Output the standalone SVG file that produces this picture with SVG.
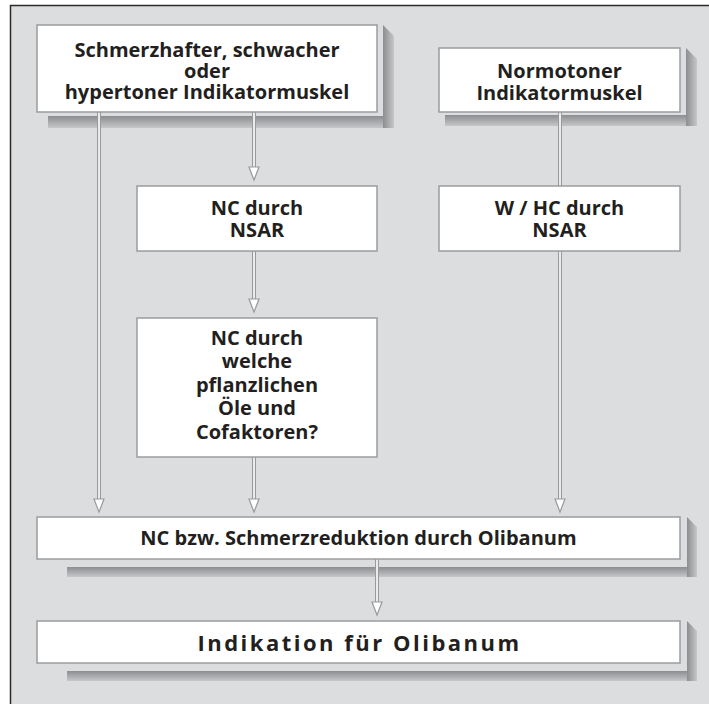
<svg xmlns="http://www.w3.org/2000/svg" width="709" height="704" viewBox="0 0 709 704">
<defs>
<linearGradient id="gV" x1="0" y1="0" x2="0" y2="1"><stop offset="0" stop-color="#8c8d90"/><stop offset="1" stop-color="#c6c7c9"/></linearGradient>
<linearGradient id="gH" x1="0" y1="0" x2="1" y2="0"><stop offset="0" stop-color="#8c8d90"/><stop offset="1" stop-color="#c6c7c9"/></linearGradient>
<path id="ah" d="M-5,-13 L5,-13 L0,0 Z" fill="#fff" stroke="#999a9c" stroke-width="1.2" stroke-linejoin="miter"/>
</defs>
<style>
.box{fill:#fff;stroke:#9b9c9e;stroke-width:1.5}
.t{font-family:"Open Sans","DejaVu Sans",sans-serif;font-weight:700;font-size:20px;fill:#231f20;text-anchor:middle}
.big{font-size:22px;letter-spacing:2.5px}
.pipe{stroke:#999a9c;stroke-width:4;fill:none}
.core{stroke:#fff;stroke-width:1.6;fill:none}
.sv{fill:url(#gV)}
.sh{fill:url(#gH)}
</style>
<rect x="10" y="5" width="720" height="720" fill="#dcdddf"/>
<path d="M10.5,704 V5.5 H709" fill="none" stroke="#2b2b2b" stroke-width="1.5"/>

<g id="shadows">
<rect class="sv" x="48" y="116" width="335" height="12"/>
<polygon class="sh" points="383,25 394,36 394,128 383,128"/>
<rect class="sv" x="445" y="115" width="241" height="11"/>
<polygon class="sh" points="686,48 697,59 697,126 686,126"/>
<rect class="sv" x="67" y="567" width="620" height="10"/>
<polygon class="sh" points="687,517 697,527 697,577 687,577"/>
<rect class="sv" x="67" y="671" width="620" height="10"/>
<polygon class="sh" points="687,621 697,631 697,681 687,681"/>
</g>

<g id="connectors">
<path class="pipe" d="M99,112 V499 M254,112 V167 M254,251 V299 M254,457 V499 M560,112 V186 M560,251 V499 M377,559 V602"/>
<path class="core" d="M99,112 V500 M254,112 V168 M254,251 V300 M254,457 V500 M560,112 V186 M560,251 V500 M377,559 V603"/>
<use href="#ah" x="99" y="512"/>
<use href="#ah" x="254" y="180"/>
<use href="#ah" x="254" y="312"/>
<use href="#ah" x="254" y="512"/>
<use href="#ah" x="560" y="512"/>
<use href="#ah" x="377" y="615"/>
</g>

<g id="n1">
<rect class="box" x="37" y="25" width="340" height="87"/>
<text class="t" x="207" y="57">Schmerzhafter, schwacher</text>
<text class="t" x="207" y="78">oder</text>
<text class="t" x="207" y="99">hypertoner Indikatormuskel</text>
</g>
<g id="n2">
<rect class="box" x="439" y="48" width="241" height="64"/>
<text class="t" x="559.5" y="78">Normotoner</text>
<text class="t" x="559.5" y="100">Indikatormuskel</text>
</g>
<g id="n3">
<rect class="box" x="137" y="186" width="240" height="65"/>
<text class="t" x="257" y="215">NC durch</text>
<text class="t" x="257" y="237">NSAR</text>
</g>
<g id="n4">
<rect class="box" x="439" y="186" width="241" height="65"/>
<text class="t" x="559.5" y="215">W / HC durch</text>
<text class="t" x="559.5" y="237">NSAR</text>
</g>
<g id="n5">
<rect class="box" x="137" y="318" width="240" height="139"/>
<text class="t" x="257" y="345">NC durch</text>
<text class="t" x="257" y="368">welche</text>
<text class="t" x="257" y="392">pflanzlichen</text>
<text class="t" x="257" y="415">Öle und</text>
<text class="t" x="257" y="439">Cofaktoren?</text>
</g>
<g id="n6">
<rect class="box" x="37" y="517" width="643" height="42"/>
<text class="t" x="358.5" y="545">NC bzw. Schmerzreduktion durch Olibanum</text>
</g>
<g id="n7">
<rect class="box" x="37" y="621" width="643" height="42"/>
<text class="t big" x="359.5" y="651">Indikation für Olibanum</text>
</g>
</svg>
